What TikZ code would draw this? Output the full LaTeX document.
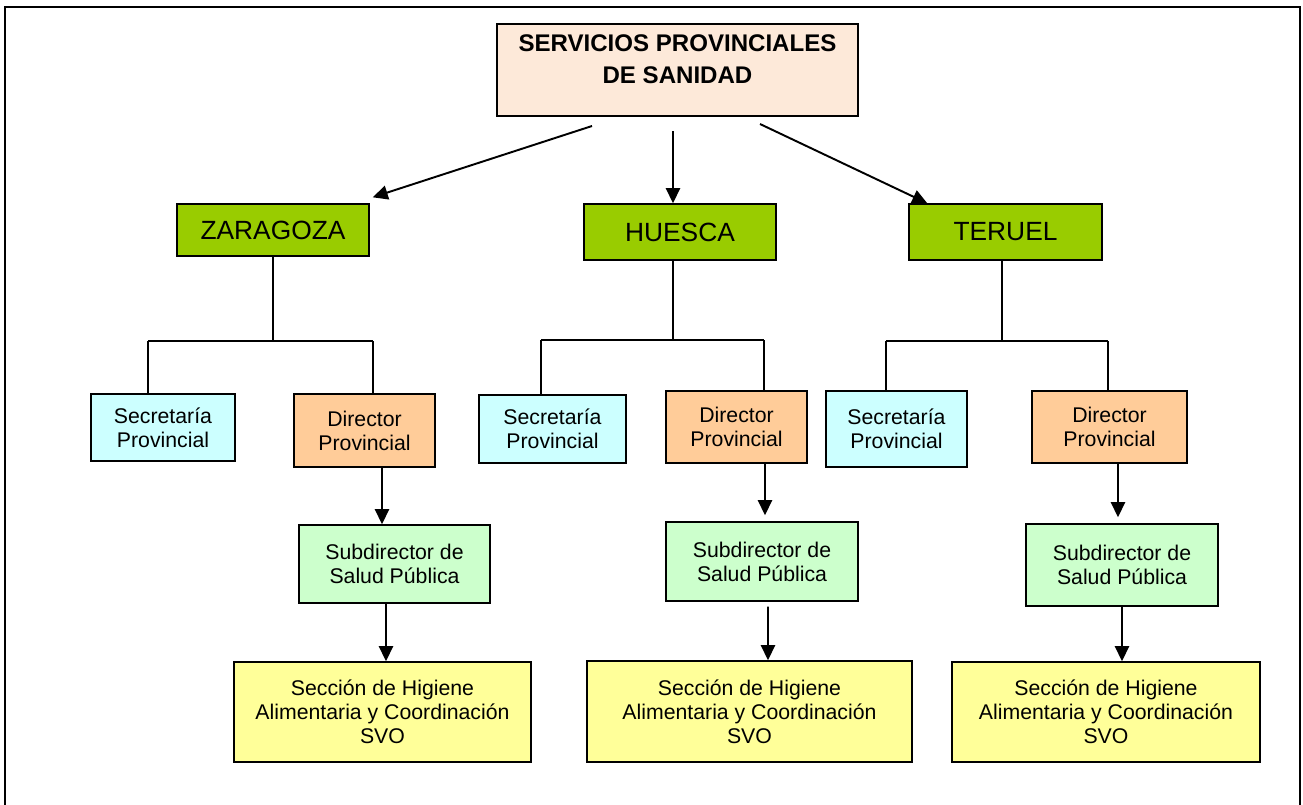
\documentclass[tikz,border=0pt]{standalone}
\usepackage{fontspec}
\setmainfont{Liberation Sans}
\usetikzlibrary{arrows.meta,calc}

\definecolor{peach}{HTML}{FDE9D9}
\definecolor{provgreen}{HTML}{99CC00}
\definecolor{secblue}{HTML}{CCFFFF}
\definecolor{dirorange}{HTML}{FFCC99}
\definecolor{subgreen}{HTML}{CCFFCC}
\definecolor{higyellow}{HTML}{FFFF99}

\begin{document}
\begin{tikzpicture}[x=0.02cm, y=-0.02cm, >={Triangle[length=8.6pt,width=8pt]}, line width=0.8pt]
\tikzstyle{every node}=[draw=black, line width=0.8pt, align=center, inner sep=0pt, font=\fontsize{12.1}{13.6}\selectfont]
\tikzstyle{srvbox}=[fill=peach, font=\bfseries\fontsize{13.7}{18}\selectfont, inner ysep=3pt, text height=30.8pt, text depth=15.4pt]
\tikzstyle{provbox}=[fill=provgreen, font=\fontsize{15}{17}\selectfont, minimum height=1.12cm]
\tikzstyle{secbox}=[fill=secblue]
\tikzstyle{dirbox}=[fill=dirorange]
\tikzstyle{subbox}=[fill=subgreen]
\tikzstyle{higbox}=[fill=higyellow]
\tikzstyle{link}=[->, line width=1.1pt]
\useasboundingbox (0,0) rectangle (1303,805);
\draw[line width=1.3pt] (5,7) rectangle (1300,840);

\node[srvbox, minimum width=7.22cm] (srv) at (677.5,70) {SERVICIOS PROVINCIALES\\DE SANIDAD};

\node[provbox, minimum width=3.84cm, minimum height=1.04cm] (zar) at (273,230) {ZARAGOZA};
\node[provbox, minimum width=3.84cm] (hue) at (680,232) {HUESCA};
\node[provbox, minimum width=3.86cm] (ter) at (1005.5,232) {TERUEL};

\node[secbox, minimum width=2.88cm, minimum height=1.34cm] (secz) at (163,427.5) {Secretaría\\Provincial};
\node[dirbox, minimum width=2.82cm, minimum height=1.46cm] (dirz) at (364.5,430.5) {Director\\Provincial};
\node[subbox, minimum width=3.82cm, minimum height=1.56cm] (subz) at (394.5,564) {Subdirector de\\Salud Pública};
\node[higbox, minimum width=5.94cm, minimum height=2cm] (higz) at (382.5,712) {Sección de Higiene\\Alimentaria y Coordinación\\SVO};

\node[secbox, minimum width=2.94cm, minimum height=1.36cm] (sech) at (552.5,429) {Secretaría\\Provincial};
\node[dirbox, minimum width=2.82cm, minimum height=1.44cm] (dirh) at (736.5,427) {Director\\Provincial};
\node[subbox, minimum width=3.84cm, minimum height=1.58cm] (subh) at (762,561.5) {Subdirector de\\Salud Pública};
\node[higbox, minimum width=6.5cm, minimum height=2.02cm] (high) at (749.5,711.5) {Sección de Higiene\\Alimentaria y Coordinación\\SVO};

\node[secbox, minimum width=2.82cm, minimum height=1.52cm] (sect) at (896.5,429) {Secretaría\\Provincial};
\node[dirbox, minimum width=3.1cm, minimum height=1.44cm] (dirt) at (1109.5,427) {Director\\Provincial};
\node[subbox, minimum width=3.84cm, minimum height=1.64cm] (subt) at (1122,565) {Subdirector de\\Salud Pública};
\node[higbox, minimum width=6.16cm, minimum height=2cm] (higt) at (1106,712) {Sección de Higiene\\Alimentaria y Coordinación\\SVO};

% from the provincial services to each province
\coordinate (arz) at (592,126);
\coordinate (arh) at (673,131);
\coordinate (art) at (760,124);
\draw[link] (arz) -- ($(zar.north east)+(3,-6)$);
\draw[link] (arh) -- (arh |- hue.north);
\draw[link] (art) -- ($(ter.north west)+(19,0)$);

% Zaragoza
\coordinate (zl) at (148,341);
\coordinate (zr) at (373,341);
\draw (zar.south) -- (zar.south |- zl);
\draw (zl) -- (zr);
\draw (zl) -- (zl |- secz.north);
\draw (zr) -- (zr |- dirz.north);
\draw[link] ($(dirz.south)+(17.5,0)$) -- ($(subz.north)+(-12.5,0)$);
\draw[link] ($(subz.south)+(-8.5,0)$) -- ($(higz.north)+(3.5,0)$);

% Huesca
\coordinate (hm) at (673,340);
\coordinate (hl) at (541,340);
\coordinate (hr) at (764,340);
\draw (hm) -- (hm |- hue.south);
\draw (hl) -- (hr);
\draw (hl) -- (hl |- sech.north);
\draw (hr) -- (hr |- dirh.north);
\draw[link] ($(dirh.south)+(28.5,0)$) -- ($(subh.north)+(3,-6)$);
\draw[link] ($(subh.south)+(6,5)$) -- ($(high.north)+(18.5,0)$);

% Teruel
\coordinate (tm) at (1002,341);
\coordinate (tl) at (886,341);
\coordinate (tr) at (1108,341);
\draw (tm) -- (tm |- ter.south);
\draw (tl) -- (tr);
\draw (tl) -- (tl |- sect.north);
\draw (tr) -- (tr |- dirt.north);
\draw[link] ($(dirt.south)+(8.5,0)$) -- ($(subt.north)+(-4,-6)$);
\draw[link] (subt.south) -- ($(higt.north)+(16,0)$);
\end{tikzpicture}
\end{document}
